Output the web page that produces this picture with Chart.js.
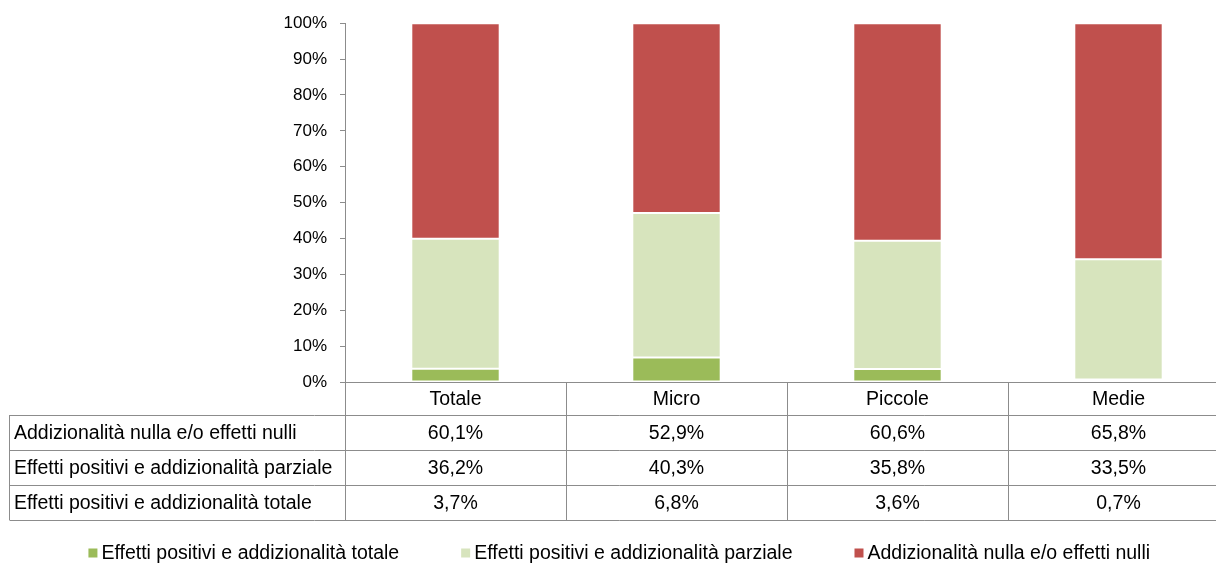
<!DOCTYPE html>
<html>
<head>
<meta charset="utf-8">
<script src="https://cdn.jsdelivr.net/npm/chart.js@4"></script>
<style>
  html, body { margin: 0; padding: 0; background: #fff; overflow: hidden; }
  #wrap { width: 1230px; height: 563px; }
</style>
</head>
<body>
<div id="wrap"><canvas id="chart" width="1230" height="563"></canvas></div>
<script>
// Dati
const categories = ['Totale', 'Micro', 'Piccole', 'Medie'];
const seriesNames = [
    'Effetti positivi e addizionalità totale',
    'Effetti positivi e addizionalità parziale',
    'Addizionalità nulla e/o effetti nulli'
];
const totale = [3.7, 6.8, 3.6, 0.7];
const parziale = [36.2, 40.3, 35.8, 33.5];
const nulla = [60.1, 52.9, 60.6, 65.8];
const yTicks = [0, 10, 20, 30, 40, 50, 60, 70, 80, 90, 100];

const colors = ['#9BBB59', '#D7E4BD', '#C0504D'];
const FONT = '"Liberation Sans", Arial, sans-serif';
const lineColor = '#8C8C8C';

function fmt(v) {
    return v.toFixed(1).replace('.', ',') + '%';
}

// Tabella dati sotto il grafico + legenda
const tablePlugin = {
    id: 'dataTable',
    afterDraw(chart) {
        const ctx = chart.ctx;
        const x = chart.scales.x;
        const area = chart.chartArea;
        const top = area.bottom;
        const headerH = 33;
        const rowH = 35;
        const leftEdge = 9.5;
        const rows = [
            [seriesNames[2], nulla],
            [seriesNames[1], parziale],
            [seriesNames[0], totale]
        ];
        const step = x.getPixelForValue(1) - x.getPixelForValue(0);
        const right = x.getPixelForValue(categories.length - 1) + step / 2;
        const bottom = top + headerH + rowH * rows.length;

        ctx.save();
        ctx.strokeStyle = lineColor;
        ctx.lineWidth = 1;
        ctx.beginPath();
        ctx.moveTo(area.left, Math.round(top) + 0.5);
        ctx.lineTo(right, Math.round(top) + 0.5);
        for (let i = 0; i <= rows.length; i++) {
            const yy = Math.round(top + headerH + rowH * i) + 0.5;
            ctx.moveTo(leftEdge, yy);
            ctx.lineTo(right, yy);
        }
        ctx.moveTo(leftEdge, Math.round(top + headerH));
        ctx.lineTo(leftEdge, bottom);
        for (let i = 0; i <= categories.length; i++) {
            const xx = Math.round(area.left + step * i) + 0.5;
            ctx.moveTo(xx, top);
            ctx.lineTo(xx, bottom);
        }
        ctx.stroke();

        ctx.fillStyle = '#000';
        ctx.font = '19.5px ' + FONT;
        ctx.textBaseline = 'middle';
        ctx.textAlign = 'center';
        categories.forEach((c, i) => {
            ctx.fillText(c, x.getPixelForValue(i), top + headerH / 2 + 1);
        });
        rows.forEach((r, j) => {
            const yy = top + headerH + rowH * j + rowH / 2 + 1;
            ctx.textAlign = 'left';
            ctx.fillText(r[0], 14, yy);
            ctx.textAlign = 'center';
            r[1].forEach((v, i) => {
                ctx.fillText(fmt(v), x.getPixelForValue(i), yy);
            });
        });

        // legenda
        ctx.font = '19.5px ' + FONT;
        ctx.textAlign = 'left';
        const box = 9, boxGap = 4, itemGap = 62;
        const widths = seriesNames.map(s => ctx.measureText(s).width);
        const total = widths.reduce((a, w) => a + box + boxGap + w, 0) + itemGap * (seriesNames.length - 1);
        let lx = (leftEdge + right) / 2 - total / 2;
        const ly = 553;
        seriesNames.forEach((s, i) => {
            ctx.fillStyle = colors[i];
            ctx.fillRect(lx, ly - box / 2, box, box);
            ctx.fillStyle = '#000';
            ctx.fillText(s, lx + box + boxGap, ly + 1);
            lx += box + boxGap + widths[i] + itemGap;
        });
        ctx.restore();
    }
};

const ctx = document.getElementById('chart').getContext('2d');
new Chart(ctx, {
    type: 'bar',
    data: {
        labels: categories,
        datasets: [
            { label: seriesNames[0], data: totale, backgroundColor: colors[0] },
            { label: seriesNames[1], data: parziale, backgroundColor: colors[1] },
            { label: seriesNames[2], data: nulla, backgroundColor: colors[2] }
        ].map(d => Object.assign(d, {
            borderColor: '#ffffff',
            borderWidth: 1,
            borderSkipped: false,
            categoryPercentage: 1,
            barPercentage: 0.4
        }))
    },
    plugins: [tablePlugin],
    options: {
        responsive: false,
        animation: false,
        layout: { padding: { top: 23, right: 1, left: 0, bottom: 0 } },
        plugins: {
            legend: { display: false },
            tooltip: { enabled: false }
        },
        scales: {
            x: {
                stacked: true,
                ticks: { display: false },
                grid: { display: false },
                border: { display: false },
                afterFit(scale) { scale.height = 181; }
            },
            y: {
                stacked: true,
                min: 0,
                max: 100,
                afterBuildTicks(scale) { scale.ticks = yTicks.map(v => ({ value: v })); },
                afterFit(scale) { scale.width = 345; },
                ticks: {
                    color: '#000',
                    padding: 13,
                    font: { family: FONT, size: 17 },
                    callback: v => v + '%'
                },
                grid: {
                    drawOnChartArea: false,
                    drawTicks: true,
                    tickLength: 5,
                    color: lineColor
                },
                border: { color: lineColor }
            }
        }
    }
});
</script>
</body>
</html>
